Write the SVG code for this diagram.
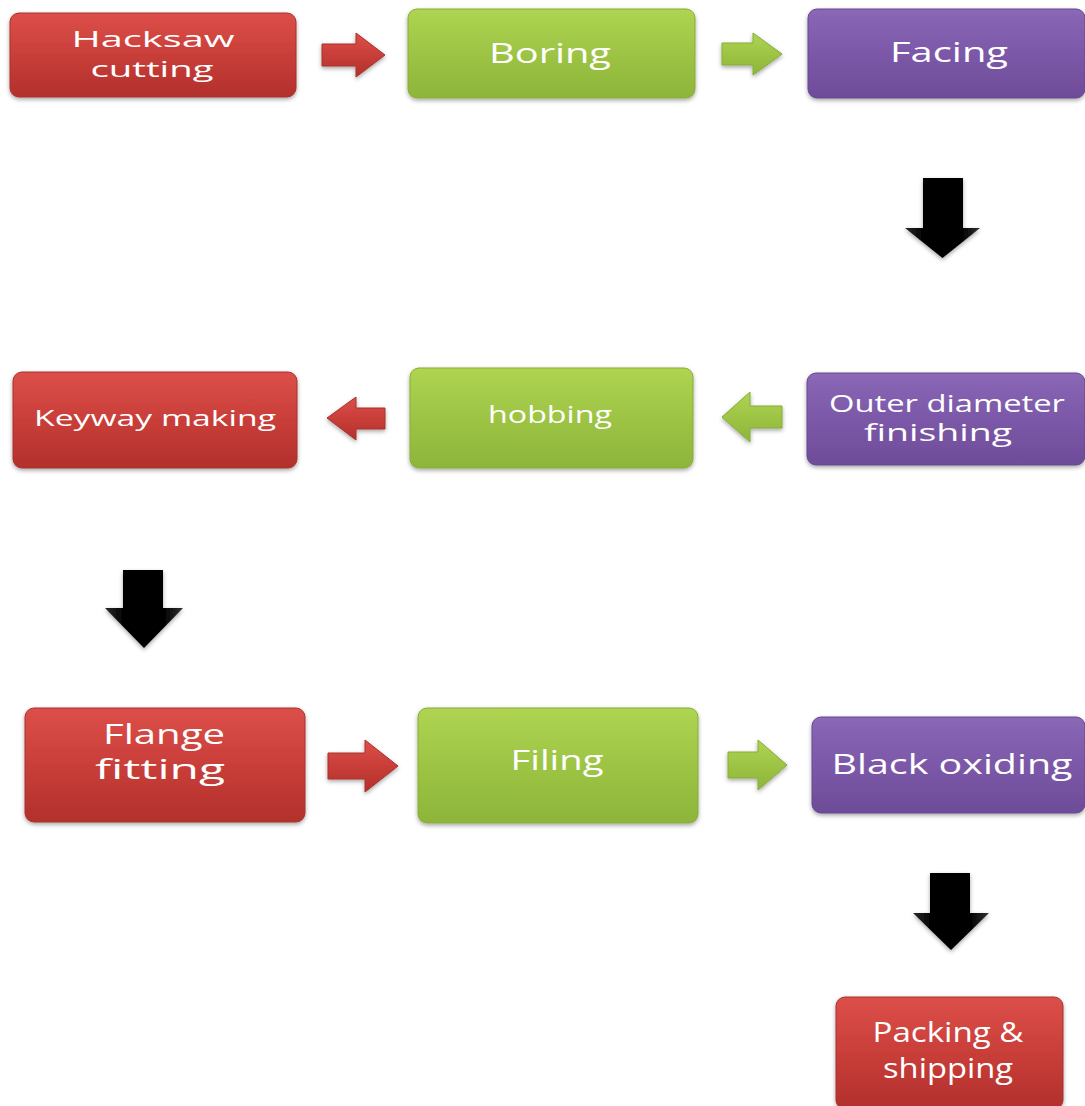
<svg xmlns="http://www.w3.org/2000/svg" width="1085" height="1106" viewBox="0 0 1085 1106">
<defs>
<linearGradient id="gRed" x1="0" y1="0" x2="0" y2="1"><stop offset="0" stop-color="#dc4f4a"/><stop offset="0.5" stop-color="#c93e39"/><stop offset="1" stop-color="#b2302c"/></linearGradient>
<linearGradient id="gGreen" x1="0" y1="0" x2="0" y2="1"><stop offset="0" stop-color="#aed452"/><stop offset="0.5" stop-color="#9dc444"/><stop offset="1" stop-color="#8db53a"/></linearGradient>
<linearGradient id="gPurple" x1="0" y1="0" x2="0" y2="1"><stop offset="0" stop-color="#8a68b6"/><stop offset="0.5" stop-color="#7c58a8"/><stop offset="1" stop-color="#6e4c99"/></linearGradient>
<linearGradient id="gBlack" x1="0" y1="0" x2="1" y2="0"><stop offset="0" stop-color="#2a2a2a"/><stop offset="0.25" stop-color="#000"/><stop offset="0.75" stop-color="#000"/><stop offset="1" stop-color="#333"/></linearGradient>
<filter id="sh" x="-10%" y="-10%" width="120%" height="130%"><feDropShadow dx="0" dy="2" stdDeviation="2" flood-color="#000" flood-opacity="0.35"/></filter>
</defs>
<style>
.box{filter:url(#sh);stroke-width:1}
.red{fill:url(#gRed);stroke:#a9302c}
.green{fill:url(#gGreen);stroke:#86ad36}
.purple{fill:url(#gPurple);stroke:#664890}
.t{font-family:"Open Sans","Liberation Sans",sans-serif;fill:#fff;text-anchor:middle}
.ar{filter:url(#sh)}
.blk{fill:url(#gBlack);filter:url(#sh)}
</style>

<g id="connectors">
<polygon class="ar red" points="322,44 356,44 356,33 385,55 356,77 356,66 322,66"/>
<polygon class="ar green" points="722,43 753,43 753,33 782,54 753,75 753,65 722,65"/>
<polygon class="blk" points="923,178 963,178 963,228 980,228 942.5,258 905,228 923,228"/>
<polygon class="ar green" points="782,406 750,406 750,392 722,417 750,442 750,428 782,428"/>
<polygon class="ar red" points="385,408 356,408 356,397 327,418 356,440 356,429 385,429"/>
<polygon class="blk" points="123,570 163,570 163,608 183,608 144,648 105,608 123,608"/>
<polygon class="ar red" points="328,753 365,753 365,740 398,766 365,792 365,779 328,779"/>
<polygon class="ar green" points="728,752 758,752 758,740 787,765 758,790 758,778 728,778"/>
<polygon class="blk" points="930,873 970,873 970,913 989,913 951,950 913,913 930,913"/>
</g>

<g id="n1"><rect class="box red" x="10" y="13" width="286" height="84" rx="9"/>
<text class="t" font-size="22"><tspan x="153" y="47" textLength="163" lengthAdjust="spacingAndGlyphs">Hacksaw</tspan><tspan x="152" y="77" textLength="123" lengthAdjust="spacingAndGlyphs">cutting</tspan></text></g>

<g id="n2"><rect class="box green" x="408" y="9" width="287" height="89" rx="9"/>
<text class="t" font-size="27" x="550" y="63" textLength="122" lengthAdjust="spacingAndGlyphs">Boring</text></g>

<g id="n3"><rect class="box purple" x="808" y="9" width="277" height="89" rx="9"/>
<text class="t" font-size="27" x="949" y="62" textLength="118" lengthAdjust="spacingAndGlyphs">Facing</text></g>

<g id="n4"><rect class="box purple" x="807" y="373" width="278" height="92" rx="9"/>
<text class="t" font-size="23"><tspan x="947" y="412" textLength="236" lengthAdjust="spacingAndGlyphs">Outer diameter</tspan><tspan x="938" y="441" textLength="148" lengthAdjust="spacingAndGlyphs">finishing</tspan></text></g>

<g id="n5"><rect class="box green" x="410" y="368" width="283" height="100" rx="9"/>
<text class="t" font-size="24" x="550" y="423" textLength="124" lengthAdjust="spacingAndGlyphs">hobbing</text></g>

<g id="n6"><rect class="box red" x="13" y="372" width="284" height="96" rx="9"/>
<text class="t" font-size="22" x="155" y="426" textLength="242" lengthAdjust="spacingAndGlyphs">Keyway making</text></g>

<g id="n7"><rect class="box red" x="25" y="708" width="280" height="114" rx="9"/>
<text class="t" font-size="27"><tspan x="164" y="744" textLength="122" lengthAdjust="spacingAndGlyphs">Flange</tspan><tspan x="160" y="779" textLength="130" lengthAdjust="spacingAndGlyphs">fitting</tspan></text></g>

<g id="n8"><rect class="box green" x="418" y="708" width="280" height="115" rx="9"/>
<text class="t" font-size="27" x="557" y="770" textLength="93" lengthAdjust="spacingAndGlyphs">Filing</text></g>

<g id="n9"><rect class="box purple" x="812" y="717" width="273" height="96" rx="9"/>
<text class="t" font-size="28" x="952" y="774" textLength="241" lengthAdjust="spacingAndGlyphs">Black oxiding</text></g>

<g id="n10"><rect class="box red" x="836" y="997" width="227" height="112" rx="9"/>
<text class="t" font-size="27"><tspan x="948" y="1042" textLength="151" lengthAdjust="spacingAndGlyphs">Packing &amp;</tspan><tspan x="948" y="1078" textLength="130" lengthAdjust="spacingAndGlyphs">shipping</tspan></text></g>
</svg>
